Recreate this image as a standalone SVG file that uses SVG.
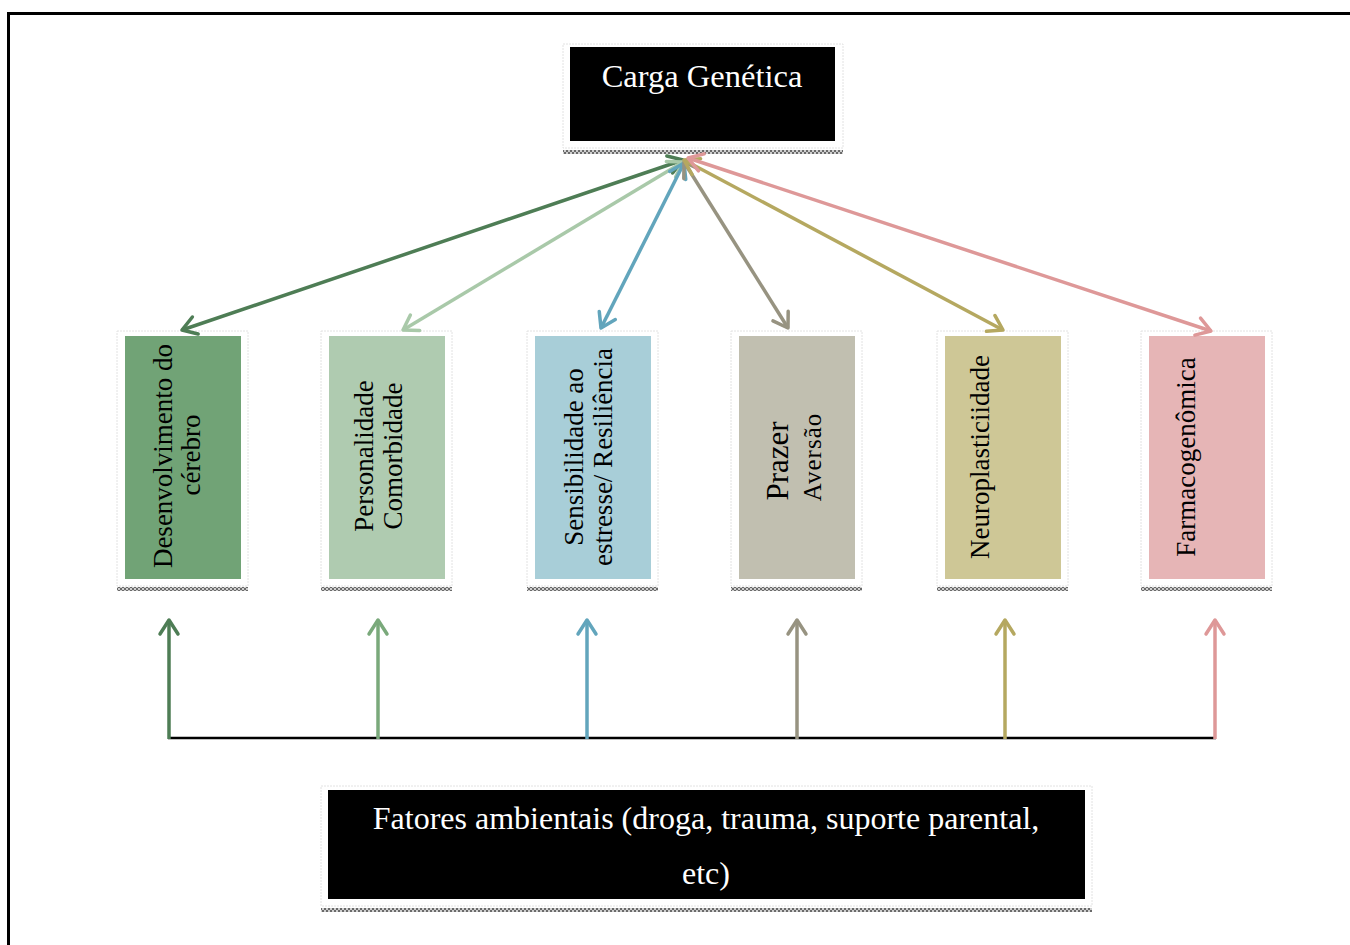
<svg xmlns="http://www.w3.org/2000/svg" width="1350" height="945" viewBox="0 0 1350 945">
<style>
.frame{fill:#fff;stroke:#e2e2e2;stroke-width:1;stroke-dasharray:2 1}
.hatch{fill:url(#hp)}
.t{font-family:"Liberation Serif","Times New Roman",serif;fill:#000}
.w{font-family:"Liberation Serif","Times New Roman",serif;fill:#fff}
.c{fill:none;stroke-width:3.5}
.base{fill:none;stroke:#000;stroke-width:2.5}
</style>
<defs>
<pattern id="hp" width="4" height="4" patternUnits="userSpaceOnUse">
<rect width="4" height="4" fill="#cfcfcf"/>
<rect x="0" y="0" width="2" height="2" fill="#6a6a6a"/>
<rect x="2" y="2" width="2" height="2" fill="#6a6a6a"/>
</pattern>
<marker id="m1" viewBox="0 0 20 24" refX="17" refY="12" markerWidth="20" markerHeight="24" markerUnits="userSpaceOnUse" orient="auto-start-reverse"><path d="M3,3 L17,12 L3,21" fill="none" stroke="#4e7d55" stroke-width="3.5" stroke-linecap="round" stroke-linejoin="round"/></marker>
<marker id="m2" viewBox="0 0 20 24" refX="17" refY="12" markerWidth="20" markerHeight="24" markerUnits="userSpaceOnUse" orient="auto-start-reverse"><path d="M3,3 L17,12 L3,21" fill="none" stroke="#a9c9a9" stroke-width="3.5" stroke-linecap="round" stroke-linejoin="round"/></marker>
<marker id="m2b" viewBox="0 0 20 24" refX="17" refY="12" markerWidth="20" markerHeight="24" markerUnits="userSpaceOnUse" orient="auto-start-reverse"><path d="M3,3 L17,12 L3,21" fill="none" stroke="#7aa97b" stroke-width="3.5" stroke-linecap="round" stroke-linejoin="round"/></marker>
<marker id="m3" viewBox="0 0 20 24" refX="17" refY="12" markerWidth="20" markerHeight="24" markerUnits="userSpaceOnUse" orient="auto-start-reverse"><path d="M3,3 L17,12 L3,21" fill="none" stroke="#62a5bc" stroke-width="3.5" stroke-linecap="round" stroke-linejoin="round"/></marker>
<marker id="m4" viewBox="0 0 20 24" refX="17" refY="12" markerWidth="20" markerHeight="24" markerUnits="userSpaceOnUse" orient="auto-start-reverse"><path d="M3,3 L17,12 L3,21" fill="none" stroke="#979381" stroke-width="3.5" stroke-linecap="round" stroke-linejoin="round"/></marker>
<marker id="m5" viewBox="0 0 20 24" refX="17" refY="12" markerWidth="20" markerHeight="24" markerUnits="userSpaceOnUse" orient="auto-start-reverse"><path d="M3,3 L17,12 L3,21" fill="none" stroke="#b5a860" stroke-width="3.5" stroke-linecap="round" stroke-linejoin="round"/></marker>
<marker id="m6" viewBox="0 0 20 24" refX="17" refY="12" markerWidth="20" markerHeight="24" markerUnits="userSpaceOnUse" orient="auto-start-reverse"><path d="M3,3 L17,12 L3,21" fill="none" stroke="#de9898" stroke-width="3.5" stroke-linecap="round" stroke-linejoin="round"/></marker>
</defs>
<rect width="1350" height="945" fill="#fff"/>
<rect x="8.5" y="13.5" width="1400" height="1000" fill="none" stroke="#000" stroke-width="3"/>

<g id="carga">
<rect class="frame" x="563" y="44" width="280" height="104"/>
<rect x="570" y="47" width="265" height="94" fill="#000"/>
<rect class="hatch" x="563" y="150" width="280" height="4"/>
<text class="w" x="702" y="87" font-size="32.5" text-anchor="middle">Carga Genética</text>
</g>

<g id="n1">
<rect class="frame" x="117" y="331" width="131" height="255"/>
<rect x="125" y="336" width="116" height="243" fill="#71a376"/>
<rect class="hatch" x="117" y="587" width="131" height="4"/>
<text class="t" font-size="27" text-anchor="middle" transform="translate(172,456) rotate(-90)">Desenvolvimento do</text>
<text class="t" font-size="27" text-anchor="middle" transform="translate(200,455) rotate(-90)">cérebro</text>
</g>

<g id="n2">
<rect class="frame" x="321" y="331" width="131" height="255"/>
<rect x="329" y="336" width="116" height="243" fill="#afcbb0"/>
<rect class="hatch" x="321" y="587" width="131" height="4"/>
<text class="t" font-size="27" text-anchor="middle" transform="translate(373,456) rotate(-90)">Personalidade</text>
<text class="t" font-size="27" text-anchor="middle" transform="translate(402,456) rotate(-90)">Comorbidade</text>
</g>

<g id="n3">
<rect class="frame" x="527" y="331" width="131" height="255"/>
<rect x="535" y="336" width="116" height="243" fill="#a8ced8"/>
<rect class="hatch" x="527" y="587" width="131" height="4"/>
<text class="t" font-size="27" text-anchor="middle" transform="translate(583,457) rotate(-90)">Sensibilidade ao</text>
<text class="t" font-size="27" text-anchor="middle" transform="translate(612,457) rotate(-90)">estresse/ Resiliência</text>
</g>

<g id="n4">
<rect class="frame" x="731" y="331" width="131" height="255"/>
<rect x="739" y="336" width="116" height="243" fill="#c1bfb0"/>
<rect class="hatch" x="731" y="587" width="131" height="4"/>
<text class="t" font-size="31" text-anchor="middle" transform="translate(788,461) rotate(-90)">Prazer</text>
<text class="t" font-size="25" letter-spacing="1" text-anchor="middle" transform="translate(821,457) rotate(-90)">Aversão</text>
</g>

<g id="n5">
<rect class="frame" x="937" y="331" width="131" height="255"/>
<rect x="945" y="336" width="116" height="243" fill="#cec796"/>
<rect class="hatch" x="937" y="587" width="131" height="4"/>
<text class="t" font-size="27" text-anchor="middle" transform="translate(989,457) rotate(-90)">Neuroplasticiidade</text>
</g>

<g id="n6">
<rect class="frame" x="1141" y="331" width="131" height="255"/>
<rect x="1149" y="336" width="116" height="243" fill="#e6b5b6"/>
<rect class="hatch" x="1141" y="587" width="131" height="4"/>
<text class="t" font-size="27" text-anchor="middle" transform="translate(1195,457) rotate(-90)">Farmacogenômica</text>
</g>

<g id="fatores">
<rect class="frame" x="321" y="786" width="771" height="120"/>
<rect x="328" y="790" width="757" height="109" fill="#000"/>
<rect class="hatch" x="321" y="908" width="771" height="4"/>
<text class="w" x="706" y="829" font-size="32" text-anchor="middle">Fatores ambientais (droga, trauma, suporte parental,</text>
<text class="w" x="706" y="884" font-size="32" text-anchor="middle">etc)</text>
</g>

<g id="connectors">
<line class="c" stroke="#4e7d55" x1="683" y1="160" x2="182" y2="330" marker-start="url(#m1)" marker-end="url(#m1)"/>
<line class="c" stroke="#a9c9a9" x1="683" y1="162" x2="403" y2="330" marker-start="url(#m2)" marker-end="url(#m2)"/>
<line class="c" stroke="#62a5bc" x1="684" y1="163" x2="601" y2="328" marker-start="url(#m3)" marker-end="url(#m3)"/>
<line class="c" stroke="#979381" x1="684" y1="162" x2="788" y2="328" marker-start="url(#m4)" marker-end="url(#m4)"/>
<line class="c" stroke="#b5a860" x1="684" y1="160" x2="1003" y2="330" marker-start="url(#m5)" marker-end="url(#m5)"/>
<line class="c" stroke="#de9898" x1="688" y1="158" x2="1211" y2="331" marker-start="url(#m6)" marker-end="url(#m6)"/>

<line class="base" x1="168" y1="738" x2="1216" y2="738"/>
<line class="c" stroke="#4e7d55" x1="169" y1="739" x2="169" y2="620" marker-end="url(#m1)"/>
<line class="c" stroke="#7aa97b" x1="378" y1="739" x2="378" y2="620" marker-end="url(#m2b)"/>
<line class="c" stroke="#62a5bc" x1="587" y1="739" x2="587" y2="620" marker-end="url(#m3)"/>
<line class="c" stroke="#979381" x1="797" y1="739" x2="797" y2="620" marker-end="url(#m4)"/>
<line class="c" stroke="#b5a860" x1="1005" y1="739" x2="1005" y2="620" marker-end="url(#m5)"/>
<line class="c" stroke="#de9898" x1="1215" y1="739" x2="1215" y2="620" marker-end="url(#m6)"/>
</g>
</svg>
